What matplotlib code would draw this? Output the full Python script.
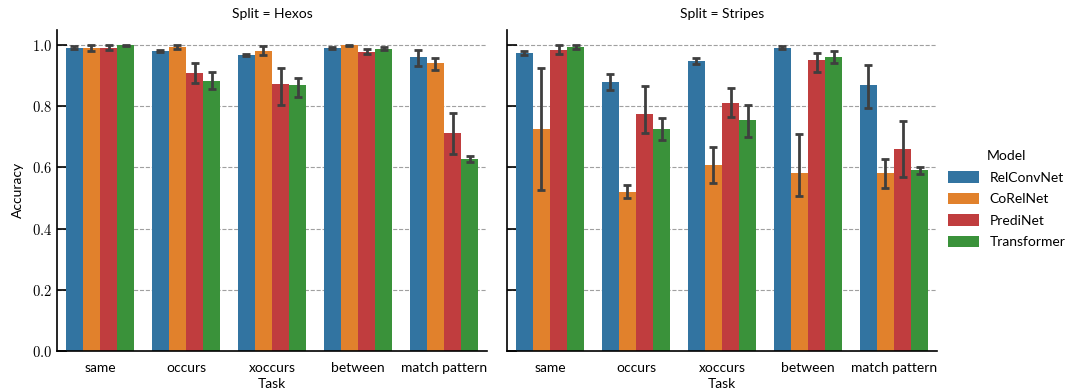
import numpy as np
import matplotlib
matplotlib.use("Agg")
import matplotlib.pyplot as plt
from matplotlib.patches import Patch

plt.rcParams["font.family"] = ["Lato", "DejaVu Sans"]
plt.rcParams["mathtext.fontset"] = "cm"

tasks = ["same", "occurs", "xoccurs", "between", "match pattern"]
models = ["RelConvNet", "CoRelNet", "PrediNet", "Transformer"]
colors = ["#3274a1", "#e1812c", "#c03d3e", "#3a923a"]
splits = ["Hexos", "Stripes"]
yticks = [0.0, 0.2, 0.4, 0.6, 0.8, 1.0]
ytick_labels = ["$0.0$", "$0.2$", "$0.4$", "$0.6$", "$0.8$", "$1.0$"]

# mean accuracy per split -> model -> task
means = {
    "Hexos": {
        "RelConvNet": [0.991, 0.980, 0.967, 0.990, 0.961],
        "CoRelNet": [0.991, 0.993, 0.980, 0.998, 0.941],
        "PrediNet": [0.991, 0.908, 0.872, 0.977, 0.712],
        "Transformer": [0.998, 0.882, 0.869, 0.987, 0.627],
    },
    "Stripes": {
        "RelConvNet": [0.974, 0.879, 0.948, 0.990, 0.869],
        "CoRelNet": [0.725, 0.519, 0.608, 0.581, 0.581],
        "PrediNet": [0.984, 0.774, 0.810, 0.951, 0.660],
        "Transformer": [0.993, 0.725, 0.755, 0.961, 0.591],
    },
}
# confidence interval low / high
ci_low = {
    "Hexos": {
        "RelConvNet": [0.986, 0.977, 0.965, 0.988, 0.930],
        "CoRelNet": [0.979, 0.986, 0.967, 0.996, 0.919],
        "PrediNet": [0.984, 0.874, 0.803, 0.969, 0.644],
        "Transformer": [0.996, 0.855, 0.830, 0.982, 0.617],
    },
    "Stripes": {
        "RelConvNet": [0.967, 0.852, 0.936, 0.985, 0.793],
        "CoRelNet": [0.526, 0.499, 0.548, 0.507, 0.531],
        "PrediNet": [0.971, 0.711, 0.764, 0.912, 0.567],
        "Transformer": [0.985, 0.688, 0.700, 0.942, 0.578],
    },
}
ci_high = {
    "Hexos": {
        "RelConvNet": [0.995, 0.983, 0.969, 0.993, 0.983],
        "CoRelNet": [1.000, 0.999, 0.995, 1.000, 0.957],
        "PrediNet": [0.998, 0.941, 0.923, 0.986, 0.778],
        "Transformer": [1.000, 0.910, 0.893, 0.992, 0.636],
    },
    "Stripes": {
        "RelConvNet": [0.981, 0.904, 0.958, 0.995, 0.934],
        "CoRelNet": [0.923, 0.542, 0.665, 0.708, 0.627],
        "PrediNet": [0.998, 0.867, 0.859, 0.974, 0.751],
        "Transformer": [0.998, 0.761, 0.803, 0.979, 0.602],
    },
}

fig = plt.figure(figsize=(10.75, 3.92), dpi=100)
ax_l = fig.add_axes([0.053, 0.1046, 0.4, 0.82])
ax_r = fig.add_axes([0.4716, 0.1046, 0.4, 0.82], sharey=ax_l)

x = np.arange(len(tasks))
width = 0.2
for ax, split in zip([ax_l, ax_r], splits):
    for i, m in enumerate(models):
        pos = x - 0.3 + i * width
        mu = np.array(means[split][m])
        lo = np.array(ci_low[split][m])
        hi = np.array(ci_high[split][m])
        ax.bar(pos, mu, width=width, color=colors[i], zorder=2)
        ax.errorbar(pos, mu, yerr=[mu - lo, hi - mu], fmt="none", ecolor="#3f3f3f",
                    elinewidth=2, capsize=3.2, capthick=2, zorder=3)
    ax.set_xlim(-0.5, len(tasks) - 0.5)
    ax.set_ylim(0, 1.05)
    ax.set_xticks(x)
    ax.set_xticklabels(tasks, fontsize=10)
    ax.tick_params(axis="x", length=0, pad=8)
    ax.tick_params(axis="y", direction="in", length=7, width=1.2)
    ax.set_yticks(yticks)
    ax.yaxis.grid(True, linestyle="--", color="#a0a0a0", linewidth=0.8, zorder=0)
    ax.set_axisbelow(True)
    for s in ["top", "right"]:
        ax.spines[s].set_visible(False)
    for s in ["left", "bottom"]:
        ax.spines[s].set_linewidth(1.2)
    ax.set_title(f"Split = {split}", fontsize=10, pad=8)
    ax.set_xlabel("Task", fontsize=10, labelpad=3)

ax_l.set_yticklabels(ytick_labels, fontsize=10.5)
ax_l.set_ylabel("Accuracy", fontsize=10, labelpad=6)
ax_r.tick_params(axis="y", labelleft=False)

handles = [Patch(facecolor=c, label=m) for c, m in zip(colors, models)]
fig.legend(handles=handles, title="Model", loc="center left", bbox_to_anchor=(0.882, 0.492),
           frameon=False, fontsize=10, title_fontsize=10, handlelength=2.2, handleheight=0.9,
           labelspacing=0.65, handletextpad=0.8, borderpad=0, borderaxespad=0)

fig.savefig("out.png", dpi=100)
